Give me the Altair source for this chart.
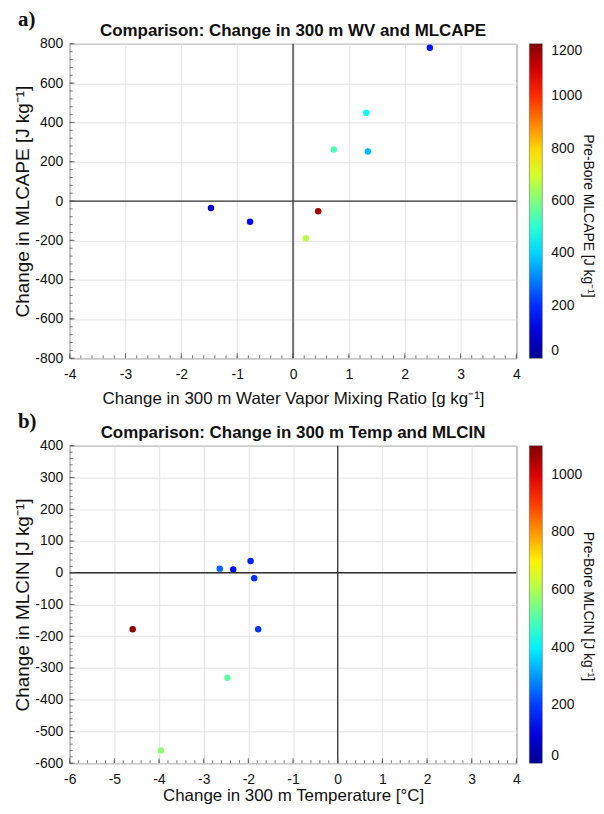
import altair as alt
import pandas as pd

FONT = "Liberation Sans"

# ---- Panel a data ----
a_wv = [2.45, 1.31, 0.73, 1.34, -1.47, -0.77, 0.45, 0.23]
a_cape = [780, 449, 262, 252, -35, -105, -52, -189]
a_pre = [170, 460, 540, 370, 80, 150, 1160, 665]

# ---- Panel b data ----
b_temp = [-2.64, -2.34, -1.95, -1.87, -1.78, -4.59, -2.47, -3.96]
b_cin = [13, 10, 37, -17, -178, -178, -331, -560]
b_pre = [248, 150, 170, 190, 195, 1086, 515, 565]

# axes ticks
a_xticks = [-4, -3, -2, -1, 0, 1, 2, 3, 4]
a_yticks = [-800, -600, -400, -200, 0, 200, 400, 600, 800]
a_cticks = [0, 200, 400, 600, 800, 1000, 1200]
b_xticks = [-6, -5, -4, -3, -2, -1, 0, 1, 2, 3, 4]
b_yticks = [-600, -500, -400, -300, -200, -100, 0, 100, 200, 300, 400]
b_cticks = [0, 200, 400, 600, 800, 1000]

JET = ["#00008f", "#0000ff", "#00ffff", "#ffff00", "#ff0000", "#800000"]
JET_T = [0, 0.125, 0.375, 0.625, 0.875, 1.0]


def minor(lo, hi, step):
    n = int(round((hi - lo) / step))
    return [round(lo + i * step, 6) for i in range(n + 1)]


def panel(df, xdom, ydom, xticks, yticks, xminor, yminor, cmax, cticks,
          title, xtitle, ytitle, ctitle, tag, w, h, xtpad, ctoff):
    xs = alt.Scale(domain=xdom, nice=False, zero=False)
    ys = alt.Scale(domain=ydom, nice=False, zero=False)
    zero = pd.DataFrame({"v": [0]})

    common = dict(grid=True, ticks=False, domain=False, gridColor="#e4e4e4",
                  labelFont=FONT, labelFontSize=14, labelColor="#111",
                  titleFont=FONT, titleFontWeight="normal",
                  titleColor="#111", labelOverlap=False, labelFlush=False,
                  labelExpr="datum.value + ''")
    xa = alt.Axis(values=xticks, title=xtitle, labelPadding=9, titlePadding=xtpad,
                  titleFontSize=17, **common)
    ya = alt.Axis(values=yticks, title=ytitle, labelPadding=7, titlePadding=2,
                  titleFontSize=19, **common)

    pts = alt.Chart(df).mark_circle(size=42, opacity=1).encode(
        x=alt.X("x:Q", scale=xs, axis=xa),
        y=alt.Y("y:Q", scale=ys, axis=ya),
        color=alt.Color("c:Q", scale=alt.Scale(
            domain=[cmax * t for t in JET_T], range=JET, interpolate="rgb"),
            legend=alt.Legend(
                title=None, orient="right", direction="vertical",
                gradientLength=h, gradientThickness=13, values=cticks,
                offset=13, padding=0, format="d",
                labelFont=FONT, labelFontSize=14, labelColor="#111",
                labelOffset=9, labelOverlap=False,
                gradientStrokeColor="#555", gradientStrokeWidth=0.5)),
    )

    hz = alt.Chart(zero).mark_rule(color="#333", strokeWidth=1.3).encode(
        y=alt.Y("v:Q", scale=ys, axis=ya))
    vt = alt.Chart(zero).mark_rule(color="#333", strokeWidth=1.3).encode(
        x=alt.X("v:Q", scale=xs, axis=xa))

    # inward ticks (left and bottom edges), MATLAB style
    def yt(vals, size):
        return alt.Chart(pd.DataFrame({"v": vals})).mark_rule(
            color="#555", strokeWidth=0.8).encode(
            y=alt.Y("v:Q", scale=ys, axis=ya),
            x=alt.value(0), x2=alt.value(size))

    def xt(vals, size):
        return alt.Chart(pd.DataFrame({"v": vals})).mark_rule(
            color="#555", strokeWidth=0.8).encode(
            x=alt.X("v:Q", scale=xs, axis=xa),
            y=alt.value(h), y2=alt.value(h - size))

    one = pd.DataFrame({"t": [tag]})
    tag_txt = alt.Chart(one).mark_text(
        font="Liberation Serif", fontSize=21, fontWeight="bold", align="left",
        baseline="middle", color="#111").encode(
        text="t:N", x=alt.value(-52), y=alt.value(-24))
    ttl = pd.DataFrame({"t": [title]})
    title_txt = alt.Chart(ttl).mark_text(
        font=FONT, fontSize=17, fontWeight="bold", align="center",
        baseline="middle", color="#111").encode(
        text="t:N", x=alt.value(w / 2), y=alt.value(-13))
    ct = pd.DataFrame({"t": [ctitle]})
    ctitle_txt = alt.Chart(ct).mark_text(
        font=FONT, fontSize=14, align="center", baseline="middle",
        angle=90, color="#111").encode(
        text="t:N", x=alt.value(w + 72), y=alt.value(h / 2 + ctoff))

    return alt.layer(
        pts, hz, vt, yt(yminor, 3), xt(xminor, 3), yt(yticks, 5), xt(xticks, 5),
        tag_txt, title_txt, ctitle_txt
    ).properties(width=w, height=h)


dfa = pd.DataFrame({"x": a_wv, "y": a_cape, "c": a_pre})
dfb = pd.DataFrame({"x": b_temp, "y": b_cin, "c": b_pre})

pa = panel(dfa, [-4, 4], [-800, 800], a_xticks, a_yticks,
           minor(-4, 4, 0.2), minor(-800, 800, 40), 1200, a_cticks,
           "Comparison: Change in 300 m WV and MLCAPE",
           "Change in 300 m Water Vapor Mixing Ratio [g kg\u207b\u00b9]",
           "Change in MLCAPE [J kg\u207b\u00b9]",
           "Pre-Bore MLCAPE [J kg\u207b\u00b9]", "a)", 449, 316, 9, 15)
pb = panel(dfb, [-6, 4], [-600, 400], b_xticks, b_yticks,
           minor(-6, 4, 0.2), minor(-600, 400, 20), 1100, b_cticks,
           "Comparison: Change in 300 m Temp and MLCIN",
           "Change in 300 m Temperature [\u00b0C]",
           "Change in MLCIN [J kg\u207b\u00b9]",
           "Pre-Bore MLCIN [J kg\u207b\u00b9]", "b)", 449, 319, 2, 2)

chart = alt.vconcat(
    pa, pb, spacing=88, bounds="flush",
    padding={"left": 5, "top": -2, "right": 0, "bottom": 0}
).resolve_scale(color="independent").configure_view(stroke="#444", strokeWidth=1)

chart.save("out.html", embed_options={"renderer": "svg", "actions": False})
